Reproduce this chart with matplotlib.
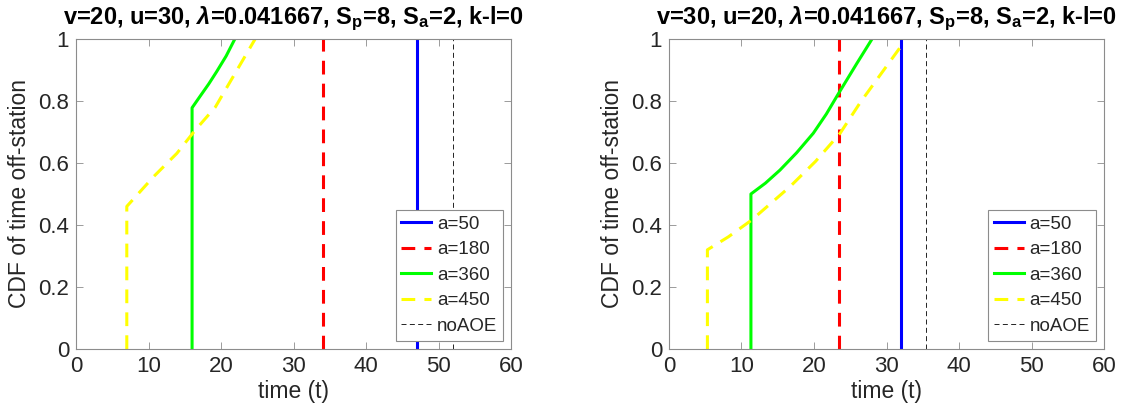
import matplotlib
matplotlib.use("Agg")
import matplotlib.pyplot as plt
from matplotlib.ticker import FixedLocator

plt.rcParams["font.family"] = ["Liberation Sans", "DejaVu Sans"]
plt.rcParams["mathtext.fontset"] = "custom"
plt.rcParams["mathtext.rm"] = "Liberation Sans:bold"
plt.rcParams["mathtext.it"] = "Liberation Sans:bold:italic"
plt.rcParams["mathtext.bf"] = "Liberation Sans:bold"

# ---- data ----
labels = ["a=50", "a=180", "a=360", "a=450"]
titles = [
    r"v=20, u=30, $\lambda$=0.041667, S$_{\rm p}$=8, S$_{\rm a}$=2, k-l=0",
    r"v=30, u=20, $\lambda$=0.041667, S$_{\rm p}$=8, S$_{\rm a}$=2, k-l=0",
]

# left panel (v=20, u=30)
left_t50 = [47.0, 47.0]
left_c50 = [0.0, 1.0]
left_t180 = [34.0, 34.0]
left_c180 = [0.0, 1.0]
left_t360 = [16.0, 16.0, 17.1, 18.3, 19.4, 20.7, 21.9]
left_c360 = [0.0, 0.778, 0.815, 0.855, 0.895, 0.945, 1.0]
left_t450 = [7.0, 7.0, 10.7, 13.9, 16.4, 19.2, 22.2, 24.7]
left_c450 = [0.0, 0.46, 0.556, 0.631, 0.705, 0.78, 0.90, 1.0]
left_noaoe = 52.0

# right panel (v=30, u=20)
right_t50 = [32.0, 32.0]
right_c50 = [0.0, 1.0]
right_t180 = [23.4, 23.4]
right_c180 = [0.0, 1.0]
right_t360 = [11.3, 11.3, 13.3, 15.3, 17.6, 19.9, 21.7, 23.4, 25.9, 28.0]
right_c360 = [0.0, 0.50, 0.535, 0.577, 0.633, 0.696, 0.758, 0.825, 0.921, 1.0]
right_t450 = [5.3, 5.3, 8.2, 11.4, 16.7, 20.2, 23.6, 26.4, 32.1]
right_c450 = [0.0, 0.32, 0.362, 0.416, 0.524, 0.605, 0.696, 0.796, 0.98]
right_noaoe = 35.4

panels = [
    (left_t50, left_c50, left_t180, left_c180, left_t360, left_c360,
     left_t450, left_c450, left_noaoe),
    (right_t50, right_c50, right_t180, right_c180, right_t360, right_c360,
     right_t450, right_c450, right_noaoe),
]

fig = plt.figure(figsize=(11.23, 4.19), dpi=100)
axes = [fig.add_axes([0.0677, 0.167, 0.3875, 0.740]),
        fig.add_axes([0.5957, 0.167, 0.3875, 0.740])]

spine_col = "#8c8c8c"
text_col = "#262626"

for ax, data, title in zip(axes, panels, titles):
    t50, c50, t180, c180, t360, c360, t450, c450, noaoe = data
    ax.plot(t50, c50, color=(0, 0, 1), lw=2.2, label=labels[0])
    ax.plot(t180, c180, color=(1, 0, 0), lw=2.2, ls=(0, (4.5, 3)), label=labels[1])
    ax.plot(t360, c360, color=(0, 1, 0), lw=2.2, label=labels[2])
    ax.plot(t450, c450, color=(1, 1, 0), lw=2.2, ls=(0, (4.5, 3)), label=labels[3])
    ax.plot([noaoe, noaoe], [0, 1], color="k", lw=0.6, ls=(0, (6, 4)), label="noAOE")

    ax.set_xlim(0, 60)
    ax.set_ylim(0, 1)
    ax.xaxis.set_major_locator(FixedLocator([0, 10, 20, 30, 40, 50, 60]))
    ax.set_yticks([0, 0.2, 0.4, 0.6, 0.8, 1.0])
    ax.set_yticklabels(["0", "0.2", "0.4", "0.6", "0.8", "1"])
    ax.tick_params(direction="in", top=True, right=True, length=5, width=0.6,
                   color=spine_col, labelsize=16, labelcolor=text_col, pad=5)
    for sp in ax.spines.values():
        sp.set_color(spine_col)
        sp.set_linewidth(0.8)

    ax.set_xlabel("time (t)", fontsize=16.5, color=text_col, labelpad=2)
    ax.set_ylabel("CDF of time off-station", fontsize=16.5, color=text_col, labelpad=5)
    ax.set_title(title, fontsize=17, fontweight="bold", pad=11)

    leg = ax.legend(loc="lower right", fontsize=13.5, handlelength=1.6,
                    handletextpad=0.3, labelspacing=0.45, borderpad=0.3,
                    borderaxespad=0.45, fancybox=False, framealpha=1)
    leg.get_frame().set_edgecolor(spine_col)
    leg.get_frame().set_linewidth(0.8)
    for txt in leg.get_texts():
        txt.set_color(text_col)

fig.savefig("out.png", dpi=100)
